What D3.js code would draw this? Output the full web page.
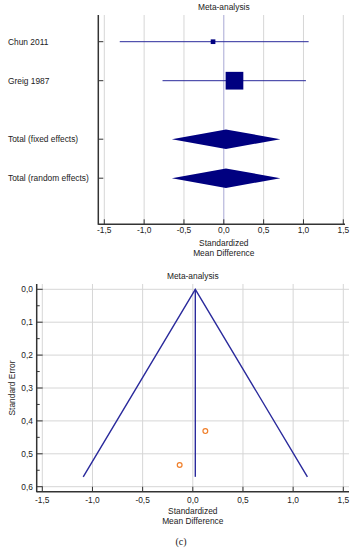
<!DOCTYPE html>
<html><head><meta charset="utf-8">
<script src="https://cdn.jsdelivr.net/npm/d3@7"></script>
<style>
body{margin:0;background:#fff;}
svg text{font-family:"Liberation Sans",Arial,sans-serif;fill:#222;}
</style></head>
<body>
<script>
// ---- Forest plot data ----
const studies = ["Chun 2011", "Greig 1987", "Total (fixed effects)", "Total (random effects)"];
const rowIndex = [0, 1, 2.5, 3.5];
const effect = [-0.135, 0.134, 0.027, 0.027];
const ciLow = [-1.306, -0.769, -0.652, -0.652];
const ciHigh = [1.065, 1.031, 0.71, 0.71];
const weightPct = [6.5, 93.5, null, null];
const isTotal = [false, false, true, true];
const xTicks = [-1.5, -1.0, -0.5, 0.0, 0.5, 1.0, 1.5];

// ---- Funnel plot data ----
const pooledSMD = 0.025;
const maxSE = 0.57;
const funnelSMD = [0.125, -0.131];
const funnelSE = [0.431, 0.534];
const seTicks = [0.0, 0.1, 0.2, 0.3, 0.4, 0.5, 0.6];
const seMinorTicks = [0.05, 0.15, 0.25, 0.35, 0.45, 0.55];

const fmt = v => d3.format(".1f")(v).replace(".", ",").replace("−", "-");

const svg = d3.select("body").append("svg").attr("width", 355).attr("height", 550);
const FS = "8.4px";
const axisCol = "#333", gridCol = "#d6d6d6", navy = "#000080", lineBlue = "#2a2a9c";

// ================= Forest plot =================
{
  const x = d3.scaleLinear().domain([-1.5, 1.5]).range([104.3, 343.3]);
  const y = d3.scaleLinear().domain([0, 1]).range([41.7, 80.7]);
  const axX = 98.3, top = 15, bottom = 224.3, right = 345;
  const sz = d3.scaleSqrt().domain([0, 93.5]).range([0, 17.7]);
  const g = svg.append("g");

  g.append("text").attr("x", x(0)).attr("y", 10).attr("text-anchor", "middle")
    .style("font-size", FS).text("Meta-analysis");

  // grid
  g.selectAll(".vg").data(xTicks.filter(d => d !== 0)).join("line")
    .attr("x1", d => x(d)).attr("x2", d => x(d)).attr("y1", top).attr("y2", bottom)
    .attr("stroke", gridCol).attr("stroke-width", 1);
  g.append("line").attr("x1", x(0)).attr("x2", x(0)).attr("y1", top).attr("y2", bottom)
    .attr("stroke", "#a8a8d4").attr("stroke-width", 1);

  // CI lines
  const idx = d3.range(studies.length);
  g.selectAll(".ci").data(idx.filter(i => !isTotal[i])).join("line")
    .attr("x1", i => x(ciLow[i])).attr("x2", i => x(ciHigh[i]))
    .attr("y1", i => y(rowIndex[i])).attr("y2", i => y(rowIndex[i]))
    .attr("stroke", lineBlue).attr("stroke-width", 1);
  g.selectAll(".sq").data(idx.filter(i => !isTotal[i])).join("rect")
    .attr("x", i => x(effect[i]) - sz(weightPct[i]) / 2)
    .attr("y", i => y(rowIndex[i]) - sz(weightPct[i]) / 2)
    .attr("width", i => sz(weightPct[i])).attr("height", i => sz(weightPct[i]))
    .attr("fill", navy);
  const hh = 9.7;
  g.selectAll(".dm").data(idx.filter(i => isTotal[i])).join("path")
    .attr("d", i => {
      const cy = y(rowIndex[i]);
      return `M${x(ciLow[i])},${cy}L${x(effect[i])},${cy - hh}L${x(ciHigh[i])},${cy}L${x(effect[i])},${cy + hh}Z`;
    })
    .attr("fill", navy);

  // labels
  g.selectAll(".lab").data(idx).join("text")
    .attr("x", 8).attr("y", i => y(rowIndex[i]) + 3)
    .style("font-size", FS).text(i => studies[i]);

  // axes
  g.append("line").attr("x1", axX).attr("x2", axX).attr("y1", top).attr("y2", bottom + 0.5)
    .attr("stroke", axisCol).attr("stroke-width", 1.5);
  g.append("line").attr("x1", axX).attr("x2", right).attr("y1", bottom).attr("y2", bottom)
    .attr("stroke", axisCol).attr("stroke-width", 1.5);
  g.selectAll(".rt").data(idx).join("line")
    .attr("x1", axX).attr("x2", axX + 5).attr("y1", i => y(rowIndex[i])).attr("y2", i => y(rowIndex[i]))
    .attr("stroke", axisCol).attr("stroke-width", 1);
  g.selectAll(".xt").data(xTicks).join("line")
    .attr("x1", d => x(d)).attr("x2", d => x(d)).attr("y1", bottom - 5).attr("y2", bottom)
    .attr("stroke", axisCol).attr("stroke-width", 1);
  g.selectAll(".xl").data(xTicks).join("text")
    .attr("x", d => x(d)).attr("y", bottom + 9).attr("text-anchor", "middle")
    .style("font-size", FS).text(d => fmt(d));
  g.append("text").attr("x", x(0)).attr("y", 246).attr("text-anchor", "middle")
    .style("font-size", FS).text("Standardized");
  g.append("text").attr("x", x(0)).attr("y", 255.5).attr("text-anchor", "middle")
    .style("font-size", FS).text("Mean Difference");
}

// ================= Funnel plot =================
{
  const x = d3.scaleLinear().domain([-1.5, 1.5]).range([42.3, 343.3]);
  const y = d3.scaleLinear().domain([0, 0.6]).range([289.3, 486.7]);
  const axX = 36.7, top = 284, bottom = 491.7, right = 349;
  const g = svg.append("g");

  g.append("text").attr("x", x(0)).attr("y", 279).attr("text-anchor", "middle")
    .style("font-size", FS).text("Meta-analysis");

  g.selectAll(".vg").data(xTicks).join("line")
    .attr("x1", d => x(d)).attr("x2", d => x(d)).attr("y1", top).attr("y2", bottom)
    .attr("stroke", gridCol).attr("stroke-width", 1);
  g.selectAll(".hg").data(seTicks).join("line")
    .attr("x1", axX).attr("x2", right).attr("y1", d => y(d)).attr("y2", d => y(d))
    .attr("stroke", gridCol).attr("stroke-width", 1);

  // funnel
  const z = 1.96;
  const funnel = [[pooledSMD - z * maxSE, maxSE], [pooledSMD, 0], [pooledSMD + z * maxSE, maxSE]];
  g.append("path").attr("d", d3.line().x(d => x(d[0])).y(d => y(d[1]))(funnel))
    .attr("fill", "none").attr("stroke", lineBlue).attr("stroke-width", 1.4);
  g.append("line").attr("x1", x(pooledSMD)).attr("x2", x(pooledSMD)).attr("y1", y(0)).attr("y2", y(maxSE))
    .attr("stroke", lineBlue).attr("stroke-width", 1.4);

  g.selectAll(".pt").data(d3.range(funnelSMD.length)).join("circle")
    .attr("cx", i => x(funnelSMD[i])).attr("cy", i => y(funnelSE[i])).attr("r", 2.4)
    .attr("fill", "#fff").attr("stroke", "#f07f2a").attr("stroke-width", 1.2);

  // axes
  g.append("line").attr("x1", axX).attr("x2", axX).attr("y1", top).attr("y2", bottom + 0.5)
    .attr("stroke", axisCol).attr("stroke-width", 1.5);
  g.append("line").attr("x1", axX).attr("x2", right).attr("y1", bottom).attr("y2", bottom)
    .attr("stroke", axisCol).attr("stroke-width", 1.5);
  g.selectAll(".yt").data(seTicks).join("line")
    .attr("x1", axX).attr("x2", axX + 6).attr("y1", d => y(d)).attr("y2", d => y(d))
    .attr("stroke", axisCol).attr("stroke-width", 1);
  g.selectAll(".ymt").data(seMinorTicks).join("line")
    .attr("x1", axX).attr("x2", axX + 3).attr("y1", d => y(d)).attr("y2", d => y(d))
    .attr("stroke", axisCol).attr("stroke-width", 1);
  g.selectAll(".yl").data(seTicks).join("text")
    .attr("x", 33).attr("y", d => y(d) + 3).attr("text-anchor", "end")
    .style("font-size", FS).text(d => fmt(d));
  g.selectAll(".xt").data(xTicks).join("line")
    .attr("x1", d => x(d)).attr("x2", d => x(d)).attr("y1", bottom - 5).attr("y2", bottom)
    .attr("stroke", axisCol).attr("stroke-width", 1);
  g.selectAll(".xl").data(xTicks).join("text")
    .attr("x", d => x(d)).attr("y", bottom + 11).attr("text-anchor", "middle")
    .style("font-size", FS).text(d => fmt(d));
  g.append("text").attr("transform", `translate(14.5,${y(0.3)}) rotate(-90)`).attr("text-anchor", "middle")
    .style("font-size", FS).text("Standard Error");
  g.append("text").attr("x", x(0)).attr("y", 514).attr("text-anchor", "middle")
    .style("font-size", FS).text("Standardized");
  g.append("text").attr("x", x(0)).attr("y", 523.5).attr("text-anchor", "middle")
    .style("font-size", FS).text("Mean Difference");
  svg.append("text").attr("x", 181).attr("y", 545).attr("text-anchor", "middle")
    .style("font-size", "10px").style("font-family", "'Liberation Serif',serif").text("(c)");
}
</script>
</body></html>
